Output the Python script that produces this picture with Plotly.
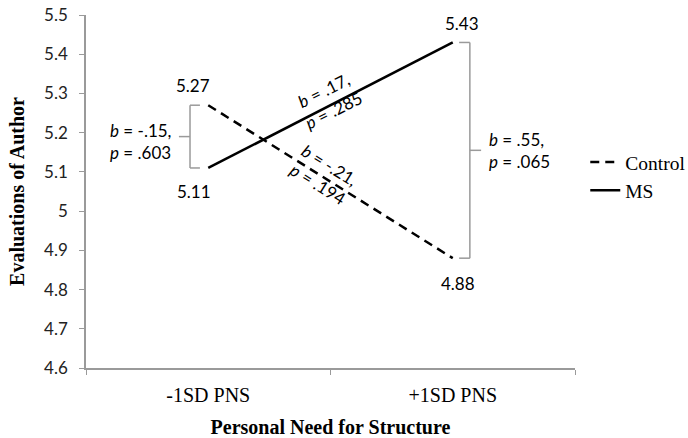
import plotly.graph_objects as go

categories = ["-1SD PNS", "+1SD PNS"]
control_values = [5.27, 4.88]
ms_values = [5.11, 5.43]
y_ticks = [4.6, 4.7, 4.8, 4.9, 5.0, 5.1, 5.2, 5.3, 5.4, 5.5]
y_ticktext = ["4.6", "4.7", "4.8", "4.9", "5", "5.1", "5.2", "5.3", "5.4", "5.5"]

left_stat = "<i>b</i> = -.15,<br><i>p</i> = .603"
right_stat = "<i>b</i> = .55,<br><i>p</i> = .065"
ms_stat = "<i>b</i> = .17,<br><i>p</i> = .285"
control_stat = "<i>b</i> = -.21,<br><i>p</i> = .194"

SANS = "Lato, Carlito, 'Open Sans', sans-serif"
SERIF = "'Liberation Serif', 'Times New Roman', serif"
GRAY = "#9a9a9a"

fig = go.Figure()
fig.add_trace(go.Scatter(x=categories, y=control_values, mode="lines", name="Control",
                         line=dict(color="black", width=2.5, dash="9px,6px"),
                         legendgroup="c", hoverinfo="skip"))
fig.add_trace(go.Scatter(x=categories, y=ms_values, mode="lines", name="MS",
                         line=dict(color="black", width=2.5),
                         legendgroup="m", hoverinfo="skip"))

ann = []
# value labels
ann.append(dict(x=categories[0], y=control_values[0], text="5.27", xshift=-15, yshift=20))
ann.append(dict(x=categories[0], y=ms_values[0], text="5.11", xshift=-14, yshift=-24))
ann.append(dict(x=categories[1], y=ms_values[1], text="5.43", xshift=9, yshift=19))
ann.append(dict(x=categories[1], y=control_values[1], text="4.88", xshift=5, yshift=-25))
for a in ann:
    a.update(xref="x", yref="y", showarrow=False, font=dict(family=SANS, size=17, color="black"))

ann.append(dict(xref="paper", yref="y", x=0.178, y=(ms_values[0] + control_values[0]) / 2,
                yshift=-5, text=left_stat, xanchor="right", align="left", showarrow=False,
                font=dict(family=SANS, size=17, color="black")))
ann.append(dict(xref="paper", yref="y", x=0.82, y=(ms_values[1] + control_values[1]) / 2,
                text=right_stat, xanchor="left", align="left", showarrow=False,
                font=dict(family=SANS, size=17, color="black")))
ann.append(dict(xref="paper", yref="y", x=0.495, y=5.283, text=ms_stat, textangle=-26.7,
                showarrow=False, font=dict(family=SANS, size=17, color="black")))
ann.append(dict(xref="paper", yref="y", x=0.486, y=5.093, text=control_stat, textangle=31.7,
                showarrow=False, font=dict(family=SANS, size=17, color="black")))
fig.update_layout(annotations=ann)

# brackets
def bracket(xv, xend, xmid, y0, y1):
    ym = (y0 + y1) / 2
    fig.add_shape(type="line", xref="paper", yref="y", x0=xv, x1=xv, y0=y0, y1=y1,
                  line=dict(color=GRAY, width=1.5))
    fig.add_shape(type="line", xref="paper", yref="y", x0=xv, x1=xend, y0=y0, y1=y0,
                  line=dict(color=GRAY, width=1.5))
    fig.add_shape(type="line", xref="paper", yref="y", x0=xv, x1=xend, y0=y1, y1=y1,
                  line=dict(color=GRAY, width=1.5))
    fig.add_shape(type="line", xref="paper", yref="y", x0=xv, x1=xmid, y0=ym, y1=ym,
                  line=dict(color=GRAY, width=1.5))

bracket(0.2127, 0.233, 0.190, ms_values[0], control_values[0])
bracket(0.785, 0.763, 0.808, control_values[1], ms_values[1])

fig.update_layout(
    width=688, height=438,
    margin=dict(l=86, r=113, t=15, b=70, autoexpand=False),
    plot_bgcolor="white", paper_bgcolor="white",
    showlegend=True,
    legend=dict(x=1.021, xanchor="left", y=0.638, yanchor="top",
                font=dict(family=SERIF, size=19.5, color="black"),
                tracegroupgap=0, bgcolor="rgba(0,0,0,0)"),
    xaxis=dict(type="category", categoryorder="array", categoryarray=categories,
               range=[-0.5, 1.5], showgrid=False, showline=True, linecolor=GRAY, linewidth=1.5,
               ticks="outside", tickson="boundaries", ticklen=5, tickcolor=GRAY,
               ticklabelstandoff=8,
               tickfont=dict(family=SERIF, size=20, color="black"), automargin=False,
               title=dict(text="<b>Personal Need for Structure</b>",
                          font=dict(family=SERIF, size=20, color="black"), standoff=16),
               zeroline=False),
    yaxis=dict(range=[4.6, 5.5], tickvals=y_ticks, ticktext=y_ticktext, showgrid=False,
               showline=True, linecolor=GRAY, linewidth=1.5, ticks="outside", ticklen=5,
               tickcolor=GRAY, ticklabelstandoff=8, automargin=False, ticklabeloverflow="allow",
               tickfont=dict(family=SANS, size=17, color="#222222"),
               title=dict(text="<b>Evaluations of Author</b>",
                          font=dict(family=SERIF, size=20, color="black"), standoff=14),
               zeroline=False),
)

fig.write_html("out.html", config={"displayModeBar": False},
               post_script="document.body.style.margin='0';document.body.style.overflow='hidden';")
